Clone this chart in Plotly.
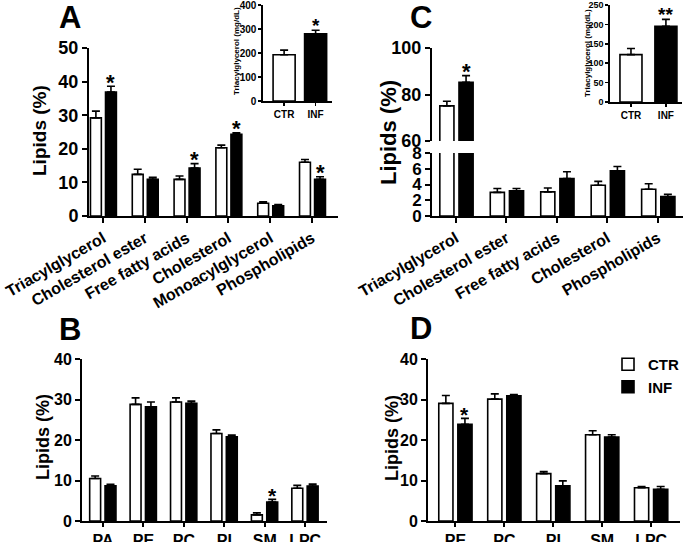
import plotly.graph_objects as go

# ---------------- data ----------------
groups = ["CTR", "INF"]

# Panel A
cats_A = ["Triacylglycerol", "Cholesterol ester", "Free fatty acids", "Cholesterol", "Monoacylglycerol", "Phospholipids"]
ctr_A = [29.2, 12.4, 10.9, 20.3, 3.8, 16.0]
ctr_A_sem = [2.0, 1.5, 1.0, 0.8, 0.4, 0.8]
inf_A = [36.9, 10.9, 14.3, 24.3, 3.0, 10.9]
inf_A_sem = [1.7, 0.6, 1.3, 0.45, 0.4, 0.8]
sig_A = ["*", "", "*", "*", "", "*"]

# Inset A (plasma triacylglycerol)
tag_A = [193, 280]
tag_A_sem = [19, 15]
tag_A_sig = ["", "*"]

# Panel C
cats_C = ["Triacylglycerol", "Cholesterol ester", "Free fatty acids", "Cholesterol", "Phospholipids"]
ctr_C = [75.1, 3.0, 3.06, 3.9, 3.4]
ctr_C_sem = [2.0, 0.5, 0.5, 0.5, 0.7]
inf_C = [85.3, 3.2, 4.77, 5.74, 2.47]
inf_C_sem = [2.8, 0.3, 0.85, 0.55, 0.3]
sig_C = ["*", "", "", "", ""]

# Inset C
tag_C = [122, 195]
tag_C_sem = [16, 18]
tag_C_sig = ["", "**"]

# Panel B
cats_B = ["PA", "PE", "PC", "PI", "SM", "LPC"]
ctr_B = [10.5, 28.8, 29.4, 21.6, 1.5, 8.1]
ctr_B_sem = [0.6, 1.6, 1.0, 0.9, 0.5, 0.7]
inf_B = [8.7, 28.2, 29.05, 20.8, 4.7, 8.6]
inf_B_sem = [0.35, 1.2, 0.55, 0.4, 0.65, 0.5]
sig_B = ["", "", "", "", "*", ""]

# Panel D
cats_D = ["PE", "PC", "PI", "SM", "LPC"]
ctr_D = [29.05, 30.1, 11.7, 21.3, 8.2]
ctr_D_sem = [1.95, 1.3, 0.5, 1.0, 0.3]
inf_D = [23.9, 30.9, 8.7, 20.7, 7.8]
inf_D_sem = [1.45, 0.3, 1.2, 0.6, 0.7]
sig_D = ["*", "", "", "", ""]

# ---------------- layout helpers ----------------
W, H = 685, 542
FONT = "Arial, Liberation Sans, sans-serif"


def px(x):
    return x / W


def py(y):
    return 1 - y / H


def dom_x(a, b):
    return [px(a), px(b)]


def dom_y(top, bottom):
    return [py(bottom), py(top)]


def ax(size=16, **kw):
    d = dict(showline=True, linecolor="black", linewidth=2, ticks="outside",
             ticklen=5, tickwidth=2, tickcolor="black", showgrid=False,
             zeroline=False, fixedrange=True, automargin=False,
             ticklabeloverflow="allow",
             tickfont=dict(family=FONT, size=size, color="black", weight="bold"))
    d.update(kw)
    return d


fig = go.Figure()
annotations = []
LW = 1.6


def add_pair(ctr, ctr_sem, inf, inf_sem, xa, ya, off_c, off_i, w, legend=False):
    n = len(ctr)
    idx = list(range(n))
    fig.add_trace(go.Bar(
        x=idx, y=ctr, width=w, offset=off_c, name=groups[0], showlegend=legend,
        marker=dict(color="white", line=dict(color="black", width=LW)),
        error_y=dict(type="data", symmetric=False, array=ctr_sem, arrayminus=[0] * n,
                     color="black", thickness=LW, width=4),
        xaxis=xa, yaxis=ya))
    fig.add_trace(go.Bar(
        x=idx, y=inf, width=w, offset=off_i, name=groups[1], showlegend=legend,
        marker=dict(color="black", line=dict(color="black", width=LW)),
        error_y=dict(type="data", symmetric=False, array=inf_sem, arrayminus=[0] * n,
                     color="black", thickness=LW, width=4),
        xaxis=xa, yaxis=ya))


def add_sig(sig, inf, inf_sem, xa, ya, off_i, w, size=22, yshift=4):
    for i, s in enumerate(sig):
        if s:
            annotations.append(dict(
                x=i + off_i + w / 2, y=inf[i] + inf_sem[i], xref=xa, yref=ya,
                text=s, showarrow=False, yanchor="middle", yshift=yshift,
                font=dict(family=FONT, size=size, color="black", weight="bold")))


def add_inset(vals, sems, sig, xa, ya, w):
    fig.add_trace(go.Bar(
        x=[0, 1], y=vals, width=w, showlegend=False,
        marker=dict(color=["white", "black"], line=dict(color="black", width=LW)),
        error_y=dict(type="data", symmetric=False, array=sems, arrayminus=[0, 0],
                     color="black", thickness=LW, width=4),
        xaxis=xa, yaxis=ya))
    for i, s in enumerate(sig):
        if s:
            annotations.append(dict(
                x=i, y=vals[i] + sems[i], xref=xa, yref=ya, text=s, showarrow=False,
                yanchor="middle", yshift=5,
                font=dict(family=FONT, size=19, color="black", weight="bold")))


def text_ann(x, y, text, size, angle=0):
    annotations.append(dict(
        x=px(x), y=py(y), xref="paper", yref="paper", text=text, showarrow=False,
        textangle=angle, xanchor="center", yanchor="middle",
        font=dict(family=FONT, size=size, color="black", weight="bold")))


# ---------------- Panel A ----------------
wA = 0.26
add_pair(ctr_A, ctr_A_sem, inf_A, inf_A_sem, "x", "y", -0.3, 0.06, wA)
add_sig(sig_A, inf_A, inf_A_sem, "x", "y", 0.06, wA)

# Inset A
add_inset(tag_A, tag_A_sem, tag_A_sig, "x2", "y2", 0.7)

# ---------------- Panel C (broken axis) ----------------
wC = 0.28
add_pair(ctr_C, ctr_C_sem, inf_C, inf_C_sem, "x3", "y3", -0.32, 0.06, wC)
add_pair(ctr_C, ctr_C_sem, inf_C, inf_C_sem, "x4", "y4", -0.32, 0.06, wC)
add_sig(sig_C, inf_C, inf_C_sem, "x4", "y4", 0.06, wC)

# Inset C
add_inset(tag_C, tag_C_sem, tag_C_sig, "x5", "y5", 0.63)

# ---------------- Panel B ----------------
wB = 0.27
add_pair(ctr_B, ctr_B_sem, inf_B, inf_B_sem, "x6", "y6", -0.33, 0.05, wB)
add_sig(sig_B, inf_B, inf_B_sem, "x6", "y6", 0.05, wB, size=21)

# ---------------- Panel D ----------------
wD = 0.29
add_pair(ctr_D, ctr_D_sem, inf_D, inf_D_sem, "x7", "y7", -0.34, 0.05, wD, legend=True)
add_sig(sig_D, inf_D, inf_D_sem, "x7", "y7", 0.05, wD, size=21)

# ---------------- texts ----------------
text_ann(70, 17, "A", 31)
text_ann(421, 17, "C", 31)
text_ann(70, 329, "B", 31)
text_ann(421, 328, "D", 31)
text_ann(40, 131, "Lipids (%)", 19, -90)
text_ann(388, 133, "Lipids (%)", 22, -90)
text_ann(43, 437, "Lipids (%)", 18, -90)
text_ann(392, 438, "Lipids (%)", 18, -90)
text_ann(237, 51, "Triacylglycerol (mg/dL)", 8, -90)
text_ann(587, 53, "Triacylglycerol (mg/dL)", 8, -90)

fig.update_layout(
    width=W, height=H, margin=dict(l=0, r=0, t=0, b=0, autoexpand=False),
    paper_bgcolor="white", plot_bgcolor="white", barmode="overlay",
    showlegend=True,
    legend=dict(x=px(608), y=py(348), xanchor="left", yanchor="top",
                font=dict(family=FONT, size=15, color="black", weight="bold"),
                bgcolor="rgba(0,0,0,0)", tracegroupgap=2, itemwidth=30),
    annotations=annotations,
    # Panel A
    xaxis=ax(16, domain=dom_x(89, 338), anchor="y", range=[-0.335, 5.62],
             tickvals=list(range(len(cats_A))), ticktext=cats_A, tickangle=-30),
    yaxis=ax(18, domain=dom_y(48, 216), anchor="x", range=[0, 50], dtick=10),
    # Inset A
    xaxis2=ax(10, domain=dom_x(263, 332), anchor="y2", range=[-0.67, 1.52],
              tickvals=[0, 1], ticktext=groups, ticklen=3, linewidth=1.6, tickwidth=1.6),
    yaxis2=ax(10, domain=dom_y(5, 101), anchor="x2", range=[0, 400],
              tickvals=[0, 100, 200, 300, 400], ticklen=3, linewidth=1.6, tickwidth=1.6),
    # Panel C bottom
    xaxis3=ax(16, domain=dom_x(432, 683), anchor="y3", range=[-0.475, 4.5],
              tickvals=list(range(len(cats_C))), ticktext=cats_C, tickangle=-30),
    yaxis3=ax(17, domain=dom_y(153, 216), anchor="x3", range=[0, 8], dtick=2),
    # Panel C top
    xaxis4=dict(domain=dom_x(432, 683), anchor="y4", range=[-0.475, 4.5], visible=False,
                fixedrange=True, automargin=False),
    yaxis4=ax(18, domain=dom_y(48, 141), anchor="x4", range=[60, 100], dtick=20),
    # Inset C
    xaxis5=ax(10, domain=dom_x(610, 682), anchor="y5", range=[-0.6, 1.46],
              tickvals=[0, 1], ticktext=groups, ticklen=3, linewidth=1.6, tickwidth=1.6),
    yaxis5=ax(9, domain=dom_y(5, 102), anchor="x5", range=[0, 250],
              tickvals=[0, 50, 100, 150, 200, 250], ticklen=3, linewidth=1.6, tickwidth=1.6),
    # Panel B
    xaxis6=ax(16, domain=dom_x(82, 327), anchor="y6", range=[-0.52, 5.54],
              tickvals=list(range(len(cats_B))), ticktext=cats_B, ticklen=4),
    yaxis6=ax(16, domain=dom_y(359, 521), anchor="x6", range=[0, 40], dtick=10),
    # Panel D
    xaxis7=ax(16, domain=dom_x(428, 680), anchor="y7", range=[-0.56, 4.59],
              tickvals=list(range(len(cats_D))), ticktext=cats_D, ticklen=4),
    yaxis7=ax(16, domain=dom_y(359, 521), anchor="x7", range=[0, 40], dtick=10),
)

fig.write_html(
    "out.html",
    config={"displayModeBar": False, "staticPlot": True},
    post_script="document.body.style.margin='0';document.body.style.padding='0';",
)
